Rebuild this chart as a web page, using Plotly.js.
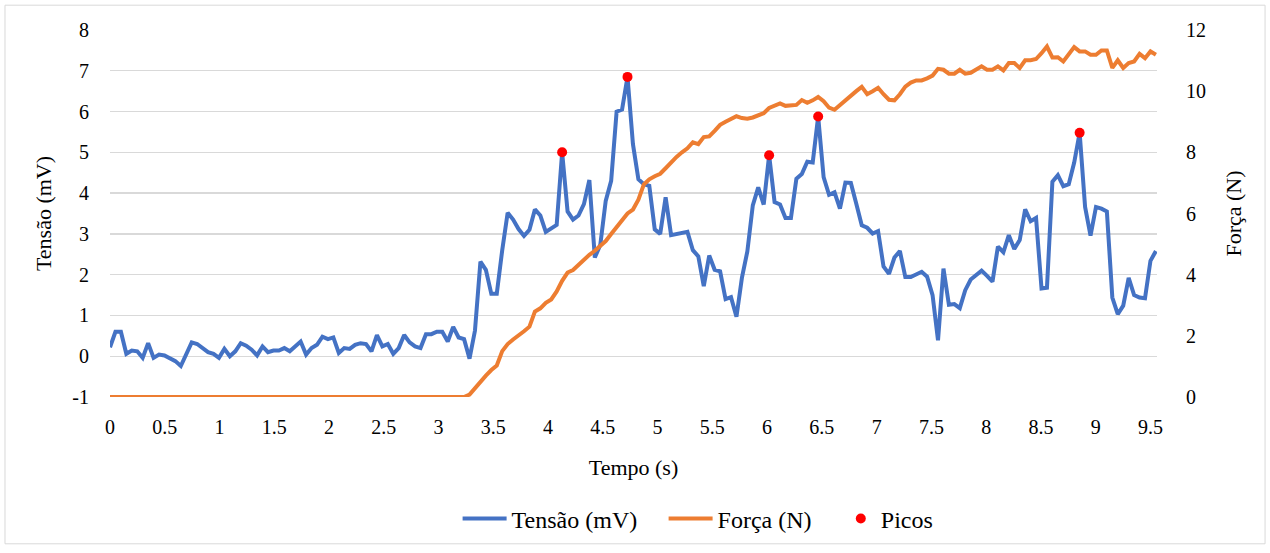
<!DOCTYPE html>
<html><head><meta charset="utf-8">
<script src="https://cdn.plot.ly/plotly-3.0.1.min.js"></script>
<style>html,body{margin:0;padding:0;background:#fff}#chart{width:1270px;height:553px}</style>
</head><body><div id="chart"></div>
<script>
// Tensão (mV), one sample per step
const tensao = [
 0.22, 0.6, 0.6, 0.06, 0.14, 0.12, -0.04, 0.32, -0.04, 0.04,
 0.02, -0.04, -0.12, -0.24, 0.04, 0.34, 0.3, 0.2, 0.1, 0.06,
 -0.04, 0.18, 0.0, 0.12, 0.32, 0.26, 0.16, 0.02, 0.24, 0.1,
 0.14, 0.14, 0.2, 0.12, 0.24, 0.36, 0.04, 0.2, 0.28, 0.48,
 0.42, 0.46, 0.08, 0.2, 0.18, 0.28, 0.32, 0.3, 0.12, 0.52,
 0.24, 0.3, 0.06, 0.2, 0.52, 0.34, 0.24, 0.2, 0.54, 0.54,
 0.6, 0.6, 0.36, 0.72, 0.46, 0.42, -0.06, 0.63, 2.32, 2.12,
 1.53, 1.53, 2.6, 3.52, 3.35, 3.12, 2.95, 3.1, 3.6, 3.45,
 3.05, 3.15, 3.22, 5.0, 3.55, 3.35, 3.45, 3.73, 4.32, 2.42,
 2.73, 3.81, 4.3, 6.0, 6.05, 6.85, 5.2, 4.34, 4.22, 4.18,
 3.11, 3.0, 3.9, 2.97, 3.0, 3.02, 3.05, 2.6, 2.45, 1.72,
 2.47, 2.12, 2.08, 1.4, 1.45, 0.97, 1.92, 2.57, 3.7, 4.14,
 3.72, 4.93, 3.78, 3.72, 3.39, 3.39, 4.35, 4.47, 4.77, 4.75,
 5.88, 4.39, 3.96, 4.02, 3.62, 4.26, 4.25, 3.74, 3.21, 3.15,
 3.01, 3.07, 2.2, 2.02, 2.42, 2.58, 1.94, 1.94, 2.0, 2.07,
 1.95, 1.5, 0.39, 2.15, 1.26, 1.28, 1.18, 1.62, 1.88, 2.0,
 2.1, 1.97, 1.83, 2.69, 2.55, 2.97, 2.63, 2.85, 3.6, 3.31,
 3.39, 1.66, 1.68, 4.28, 4.44, 4.17, 4.22, 4.75, 5.48, 3.66,
 2.96, 3.66, 3.62, 3.55, 1.44, 1.03, 1.24, 1.92, 1.5, 1.44,
 1.42, 2.34, 2.58
];
// Força (N)
const forca = [
 0, 0, 0, 0, 0, 0, 0, 0, 0, 0,
 0, 0, 0, 0, 0, 0, 0, 0, 0, 0,
 0, 0, 0, 0, 0, 0, 0, 0, 0, 0,
 0, 0, 0, 0, 0, 0, 0, 0, 0, 0,
 0, 0, 0, 0, 0, 0, 0, 0, 0, 0,
 0, 0, 0, 0, 0, 0, 0, 0, 0, 0,
 0, 0, 0, 0, 0, 0, 0.08, 0.3, 0.5, 0.7,
 0.88, 1.03, 1.5, 1.73, 1.88, 2.0, 2.15, 2.3, 2.79, 2.9,
 3.08, 3.19, 3.45, 3.8, 4.07, 4.15, 4.32, 4.45, 4.65, 4.78,
 4.93, 5.1, 5.33, 5.55, 5.78, 6.0, 6.13, 6.45, 6.95, 7.12,
 7.22, 7.3, 7.48, 7.68, 7.85, 8.0, 8.13, 8.33, 8.27, 8.5,
 8.52, 8.7, 8.9, 9.0, 9.1, 9.18, 9.12, 9.1, 9.14, 9.2,
 9.28, 9.45, 9.52, 9.6, 9.52, 9.55, 9.55, 9.71, 9.62, 9.7,
 9.81, 9.67, 9.46, 9.39, 9.55, 9.7, 9.85, 10.0, 10.14, 9.9,
 10.0, 10.11, 9.9, 9.72, 9.7, 9.9, 10.15, 10.28, 10.35, 10.35,
 10.42, 10.51, 10.73, 10.7, 10.57, 10.57, 10.7, 10.57, 10.6, 10.7,
 10.81, 10.7, 10.7, 10.81, 10.68, 10.92, 10.92, 10.76, 11.01, 11.01,
 11.05, 11.24, 11.46, 11.1, 11.11, 10.97, 11.2, 11.44, 11.3, 11.3,
 11.19, 11.19, 11.33, 11.33, 10.76, 11.01, 10.76, 10.92, 10.97, 11.22,
 11.08, 11.3, 11.19
];
// Sample indices of the marked peaks
const picosIdx = [83, 95, 121, 130, 178];
// Tick labels
const tensaoTicks = [-1, 0, 1, 2, 3, 4, 5, 6, 7, 8];
const tensaoTickText = ['-1', '0', '1', '2', '3', '4', '5', '6', '7', '8'];
const forcaTicks = [0, 2, 4, 6, 8, 10, 12];
const tempoTicks = [0, 0.5, 1, 1.5, 2, 2.5, 3, 3.5, 4, 4.5, 5, 5.5, 6, 6.5, 7, 7.5, 8, 8.5, 9, 9.5];
// Sampling: 193 samples from 0 s to 9.55 s
const tempoFinal = 9.55;
const tempo = tensao.map((_, i) => +(i * tempoFinal / (tensao.length - 1)).toFixed(4));
const picosTempo = picosIdx.map(i => tempo[i]);
const picosTensao = picosIdx.map(i => tensao[i]);

const FONT = "'Liberation Serif', 'Times New Roman', serif";

const traces = [
  {x: tempo, y: tensao, type: 'scatter', mode: 'lines', name: 'Tensão (mV)',
   line: {color: '#4472C4', width: 4}, yaxis: 'y', legend: 'legend'},
  {x: tempo, y: forca, type: 'scatter', mode: 'lines', name: 'Força (N)',
   line: {color: '#ED7D31', width: 4}, yaxis: 'y2', legend: 'legend'},
  {x: picosTempo, y: picosTensao, type: 'scatter', mode: 'markers', name: 'Picos',
   marker: {color: '#FF0000', size: 10}, yaxis: 'y', legend: 'legend2'}
];

const layout = {
  width: 1270, height: 553,
  margin: {l: 110, r: 113, t: 30, b: 153},
  paper_bgcolor: '#ffffff', plot_bgcolor: '#ffffff',
  font: {family: FONT, size: 20, color: '#000000'},
  showlegend: true,
  xaxis: {range: [0, 9.56], tickmode: 'array', tickvals: tempoTicks, showgrid: false, zeroline: false,
          showline: false, ticks: '', ticklabelstandoff: 16, tickfont: {size: 20},
          title: {text: 'Tempo (s)', font: {size: 22}, standoff: 22}},
  yaxis: {range: [-1, 8], tickmode: 'array', tickvals: tensaoTicks, ticktext: tensaoTickText,
          gridcolor: '#d9d9d9', gridwidth: 1.3, tickfont: {size: 20},
          zeroline: false, showline: false, ticks: '', ticklabelstandoff: 20,
          title: {text: 'Tensão (mV)', font: {size: 22}, standoff: 14}},
  yaxis2: {overlaying: 'y', side: 'right', range: [0, 12], tickmode: 'array', tickvals: forcaTicks,
           tickfont: {size: 20},
           showgrid: false, zeroline: false, showline: false, ticks: '', ticklabelstandoff: 28,
           title: {text: 'Força (N)', font: {size: 22}, standoff: 20}},
  legend: {orientation: 'h', x: 0.332, xanchor: 'left', y: -0.332, yanchor: 'middle',
           font: {size: 24}, traceorder: 'normal', bgcolor: 'rgba(0,0,0,0)',
           itemwidth: 44, entrywidth: 147},
  legend2: {orientation: 'h', x: 0.698, xanchor: 'left', y: -0.332, yanchor: 'middle',
            font: {size: 24}, bgcolor: 'rgba(0,0,0,0)', itemwidth: 30},
  shapes: [{type: 'rect', xref: 'paper', yref: 'paper',
            x0: -0.1003, x1: 1.1032, y0: -0.4, y1: 1.0676,
            line: {color: '#d9d9d9', width: 1}, layer: 'below'}]
};

Plotly.newPlot('chart', traces, layout, {displayModeBar: false, staticPlot: true});
</script></body></html>
